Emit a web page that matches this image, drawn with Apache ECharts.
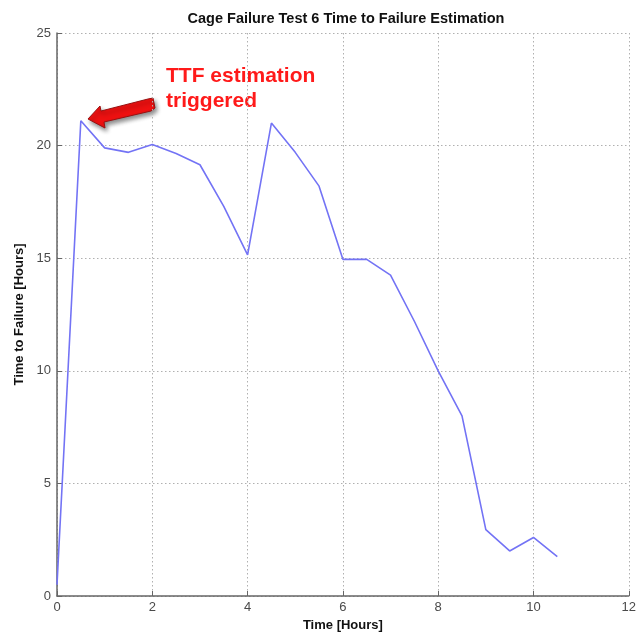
<!DOCTYPE html>
<html>
<head>
<meta charset="utf-8">
<script src="https://cdn.jsdelivr.net/npm/echarts@6/dist/echarts.min.js"></script>
<style>
  html, body { margin: 0; padding: 0; background: #fff; }
  #main { width: 639px; height: 638px; }
</style>
</head>
<body>
<div id="main"></div>
<script>
// data
var timeHours = [0, 0.5, 1, 1.5, 2, 2.5, 3, 3.5, 4, 4.5, 5, 5.5, 6, 6.5, 7, 7.5, 8, 8.5, 9, 9.5, 10, 10.5];
var ttfHours = [0.5, 21.1, 19.9, 19.7, 20.05, 19.65, 19.15, 17.3, 15.15, 21.0, 19.7, 18.2, 14.95, 14.95, 14.25, 12.2, 10.0, 8.0, 2.95, 2.0, 2.6, 1.75];
var xTicks = [0, 2, 4, 6, 8, 10, 12];
var yTicks = [0, 5, 10, 15, 20, 25];

function drawChart() {
    var chartDom = document.getElementById('main');
    var myChart = echarts.init(chartDom);
    var points = timeHours.map(function (t, i) { return [t, ttfHours[i]]; });
    var axisFont = { fontFamily: 'Liberation Sans, Arial, sans-serif', fontSize: 13, color: '#4a4a4a' };
    var nameFont = { fontFamily: 'Liberation Sans, Arial, sans-serif', fontSize: 13, fontWeight: 'bold', color: '#111' };
    var gridLine = { show: true, lineStyle: { color: '#b0b0b0', type: [1.5, 2.5], width: 1 } };

    var option = {
        backgroundColor: '#fff',
        animation: false,
        title: {
            text: 'Cage Failure Test 6 Time to Failure Estimation',
            left: 341, top: 6, textAlign: 'center',
            textStyle: { fontFamily: 'Liberation Sans, Arial, sans-serif', fontSize: 14.5, fontWeight: 'bold', color: '#111' }
        },
        grid: { left: 57, right: 10, top: 33, bottom: 42 },
        xAxis: {
            type: 'value',
            min: xTicks[0], max: xTicks[xTicks.length - 1], interval: 2,
            name: 'Time [Hours]', nameLocation: 'middle', nameGap: 21,
            nameTextStyle: nameFont,
            axisLine: { lineStyle: { color: '#666', width: 1.5 } },
            axisTick: { inside: true, length: 5, lineStyle: { color: '#666' } },
            axisLabel: Object.assign({ margin: 5 }, axisFont),
            splitLine: gridLine
        },
        yAxis: {
            type: 'value',
            min: yTicks[0], max: yTicks[yTicks.length - 1], interval: 5,
            name: 'Time to Failure [Hours]', nameLocation: 'middle', nameGap: 29, nameRotate: 90,
            nameTextStyle: nameFont,
            axisLine: { show: true, lineStyle: { color: '#666', width: 1.5 } },
            axisTick: { show: true, inside: true, length: 5, lineStyle: { color: '#666' } },
            axisLabel: Object.assign({ margin: 6 }, axisFont),
            splitLine: gridLine
        },
        series: [{
            type: 'line',
            data: points,
            showSymbol: false,
            lineStyle: { color: '#7373f5', width: 1.6 },
            z: 5
        }],
        graphic: [
            {
                type: 'text', left: 166, top: 64,
                style: {
                    text: 'TTF estimation\ntriggered',
                    fill: '#ff1a1a', font: 'bold 21px Liberation Sans, Arial, sans-serif', lineHeight: 25
                }
            },
            {
                type: 'polygon',
                shape: { points: [[88, 119], [100, 106], [101, 111], [148, 99], [153, 98], [155, 108], [151, 111], [104, 122], [105, 128]] },
                style: { fill: '#ee1111', stroke: '#991111', lineWidth: 1, shadowBlur: 4, shadowColor: 'rgba(0,0,0,0.45)', shadowOffsetX: 2, shadowOffsetY: 3 }
            }
        ]
    };
    myChart.setOption(option);
}
drawChart();
</script>
</body>
</html>
